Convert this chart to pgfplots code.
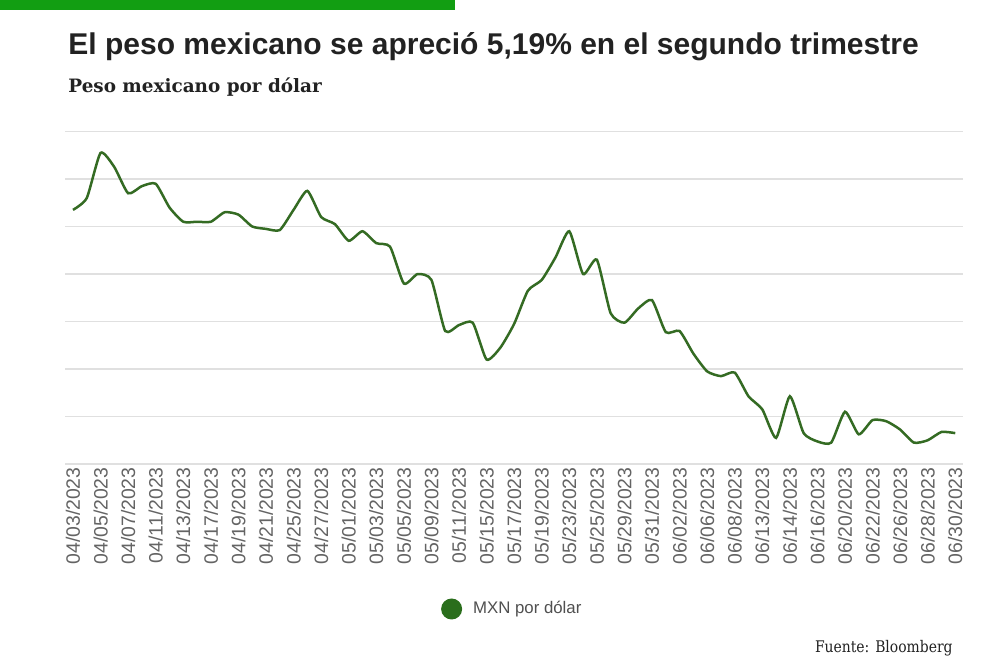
\documentclass[border=0pt]{standalone}
\usepackage{pgfplots}
\usepackage{pgfplotstable}
\pgfplotsset{compat=1.18}
\usepackage{fontspec}
\setmainfont{Liberation Sans}
\newfontfamily\slab{DejaVu Serif}
\newfontfamily\slabnarrow[FakeStretch=0.87]{DejaVu Serif}
\definecolor{topgreen}{RGB}{18,158,18}
\definecolor{linegreen}{RGB}{52,107,35}
\definecolor{dotgreen}{RGB}{42,110,28}
\definecolor{gridgray}{RGB}{224,224,224}
\definecolor{ticklab}{RGB}{100,100,100}
\definecolor{titlecol}{RGB}{34,34,34}
\definecolor{legtext}{RGB}{80,80,80}

\pgfplotstableread{
i v
0 18.07
1 18.12
2 18.31
3 18.25
4 18.14
5 18.17
6 18.18
7 18.08
8 18.02
9 18.02
10 18.02
11 18.06
12 18.05
13 18.00
14 17.99
15 17.985
16 18.07
17 18.15
18 18.04
19 18.01
20 17.94
21 17.98
22 17.93
23 17.915
24 17.76
25 17.80
26 17.775
27 17.56
28 17.585
29 17.595
30 17.44
31 17.49
32 17.59
33 17.73
34 17.775
35 17.87
36 17.98
37 17.80
38 17.86
39 17.635
40 17.595
41 17.655
42 17.69
43 17.555
44 17.56
45 17.465
46 17.39
47 17.37
48 17.385
49 17.285
50 17.23
51 17.11
52 17.285
53 17.13
54 17.095
55 17.09
56 17.22
57 17.125
58 17.185
59 17.18
60 17.145
61 17.09
62 17.10
63 17.135
64 17.13
}\datatable

\begin{document}
\begin{tikzpicture}
\useasboundingbox (0,0) rectangle (500pt,333pt);
\fill[white] (0,0) rectangle (500pt,333pt);
\fill[topgreen] (0,328pt) rectangle (227.5pt,333pt);
\node[anchor=base west, inner sep=0pt, text=titlecol,
      font=\fontsize{15}{18}\selectfont\bfseries] at (34pt,305.75pt)
      {El peso mexicano se apreció 5,19\% en el segundo trimestre};
\node[anchor=base west, inner sep=0pt, text=titlecol,
      font=\slab\bfseries\fontsize{9.2}{11}\selectfont] at (34pt,286.85pt)
      {Peso mexicano por dólar};
\node[anchor=base east, inner sep=0pt, text=titlecol,
      font=\slabnarrow\fontsize{8}{10}\selectfont] at (476.5pt,6.85pt)
      {Fuente: Bloomberg};
\begin{axis}[
  at={(32.5pt,101pt)}, anchor=south west,
  scale only axis, width=449pt, height=166.25pt,
  xmin=-0.58, xmax=64.56, ymin=17, ymax=18.4,
  ytick={17,17.2,17.4,17.6,17.8,18,18.2,18.4},
  yticklabels={},
  ymajorgrids,
  grid style={gridgray, line width=0.75pt},
  axis line style={draw=none},
  tick style={draw=none},
  xtick={0,2,...,64},
  xticklabels={04/03/2023,04/05/2023,04/07/2023,04/11/2023,04/13/2023,04/17/2023,04/19/2023,04/21/2023,04/25/2023,04/27/2023,05/01/2023,05/03/2023,05/05/2023,05/09/2023,05/11/2023,05/15/2023,05/17/2023,05/19/2023,05/23/2023,05/25/2023,05/29/2023,05/31/2023,06/02/2023,06/06/2023,06/08/2023,06/13/2023,06/14/2023,06/16/2023,06/20/2023,06/22/2023,06/26/2023,06/28/2023,06/30/2023},
  xticklabel style={rotate=90, anchor=east, inner sep=1.5pt,
                    font=\fontsize{9.7}{11}\selectfont, text=ticklab},
  legend style={at={(axis description cs:0.4184,-0.436)}, anchor=west,
                draw=none, fill=none, inner sep=0pt,
                font=\fontsize{8.4}{10}\selectfont, text=legtext},
  legend image code/.code={\path[draw=none,fill=none] (0pt,-1pt) rectangle (14pt,1pt);
                           \fill[dotgreen,draw=none] (5.25pt,0pt) circle (5.25pt);},
]
\addplot[linegreen, line width=1.25pt, smooth, tension=0.35] table[x=i,y=v]{\datatable};
\addlegendentry{MXN por dólar}
\end{axis}
\end{tikzpicture}
\end{document}
